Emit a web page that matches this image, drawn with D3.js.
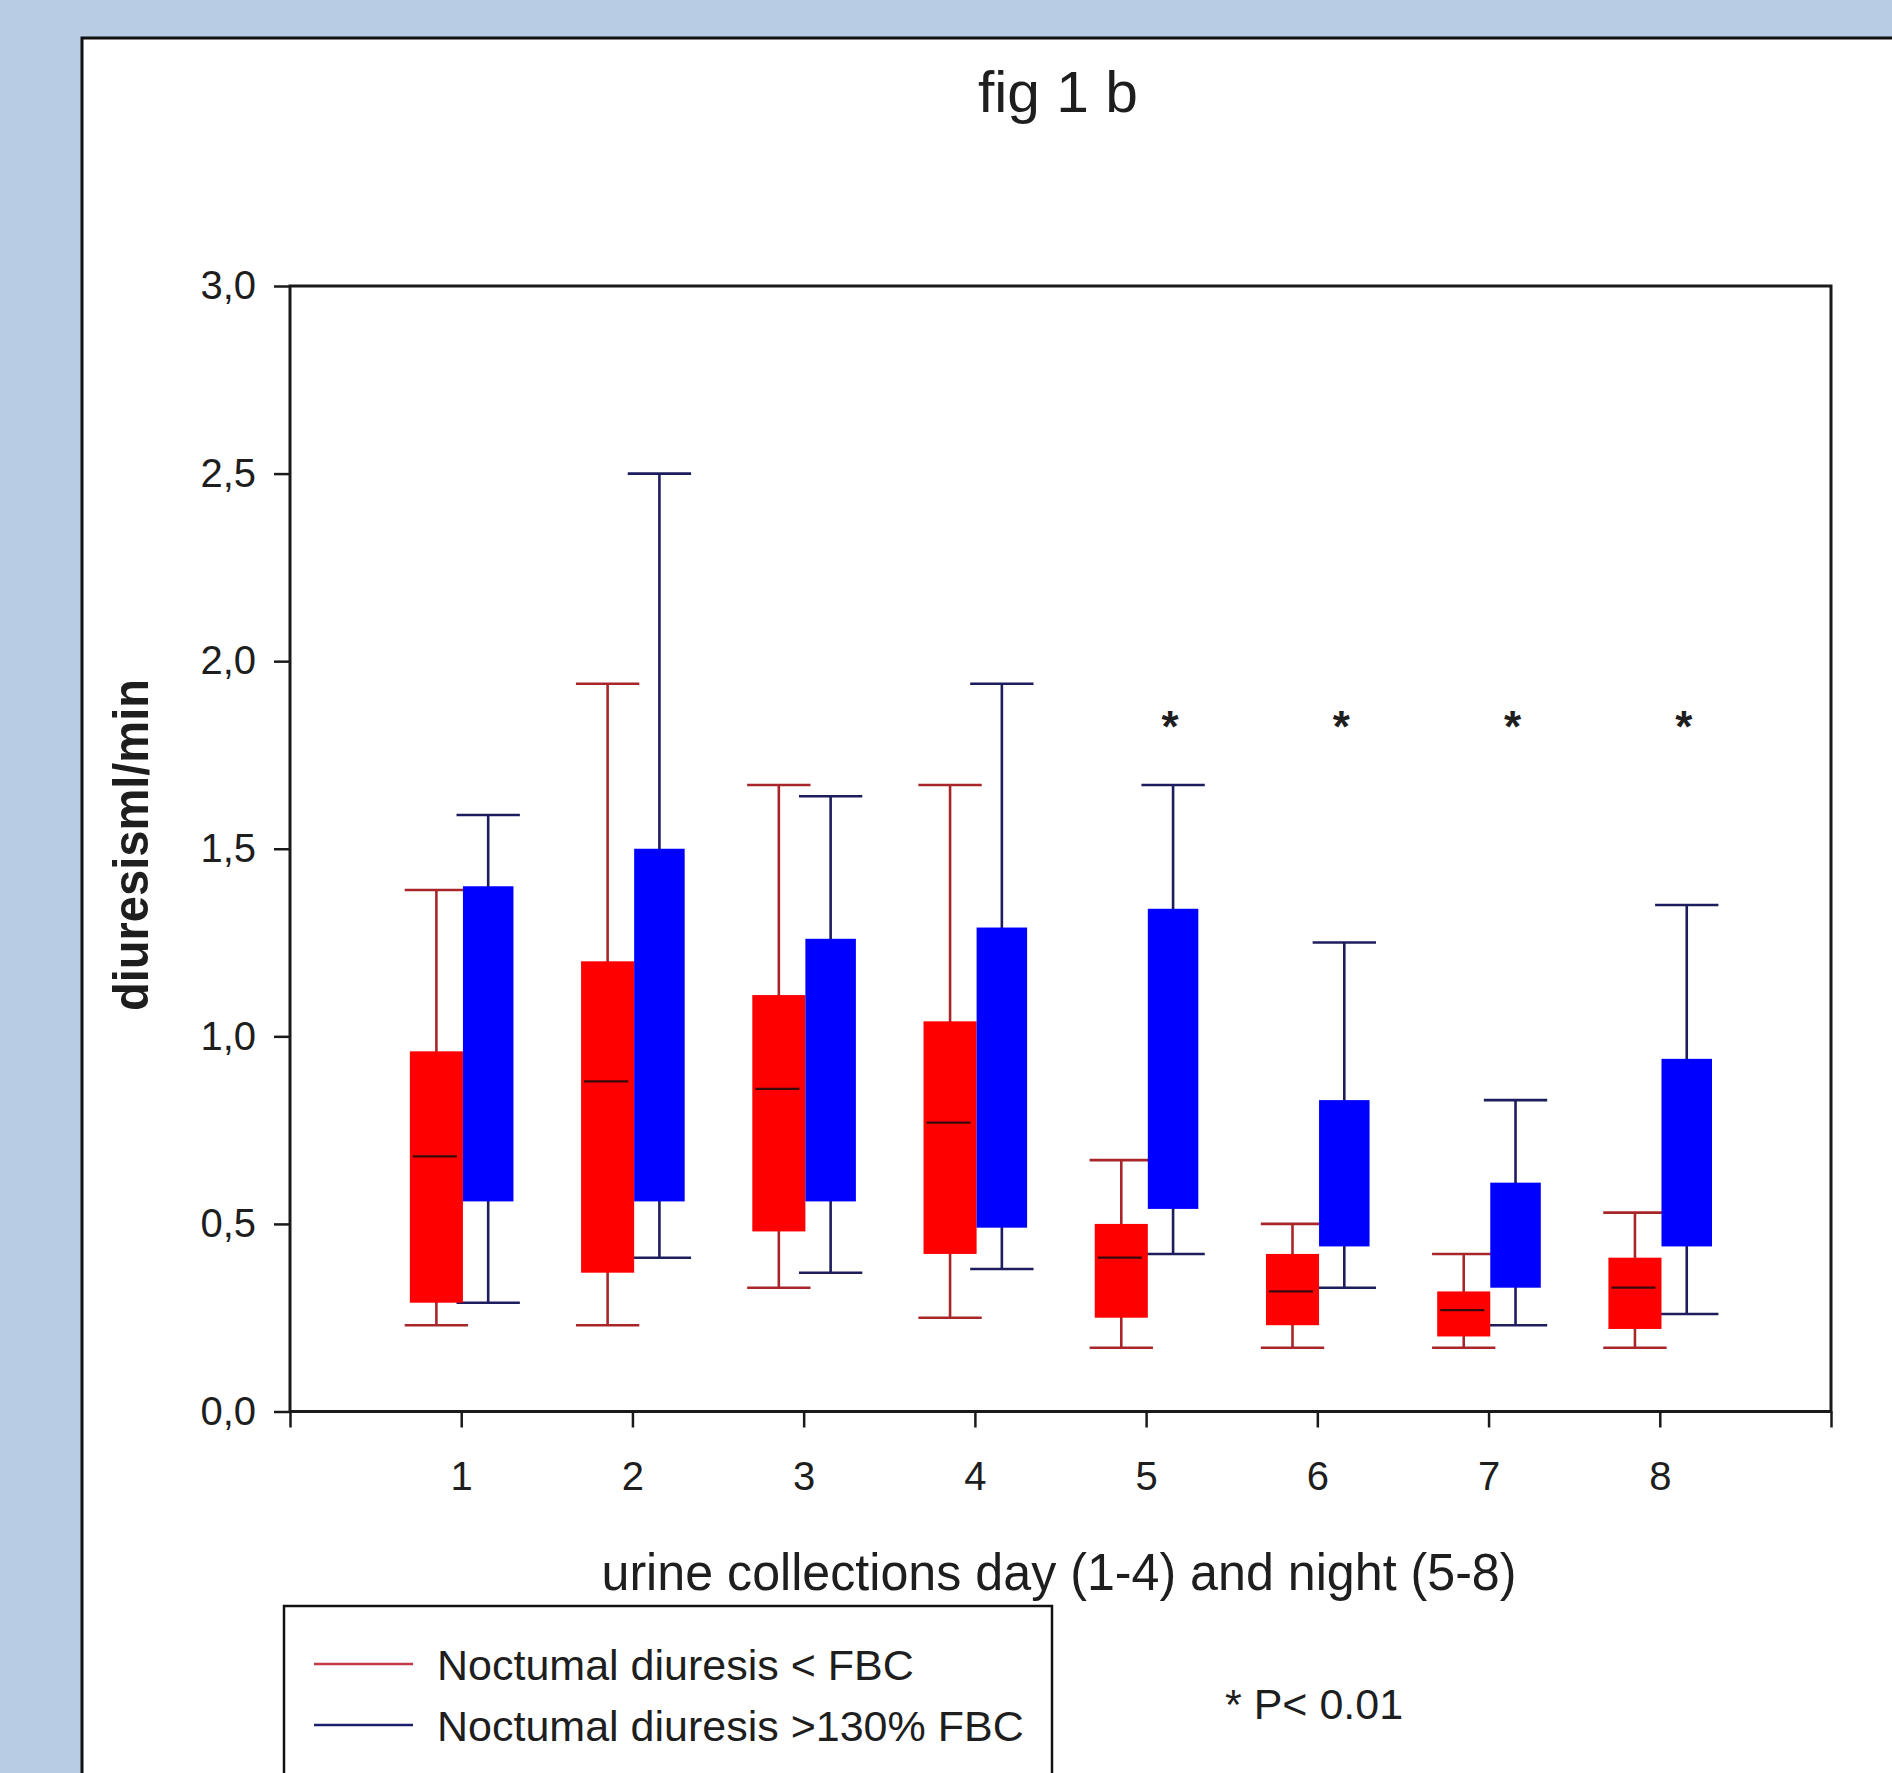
<!DOCTYPE html>
<html>
<head>
<meta charset="utf-8">
<script src="https://cdn.jsdelivr.net/npm/d3@7"></script>
<style>
  html, body { margin: 0; padding: 0; background: #b8cce4; }
  svg { display: block; }
  text { font-family: "Liberation Sans", Arial, sans-serif; fill: #1e1e1e; }
</style>
</head>
<body>
<script>
// Urine collections: 1-4 day, 5-8 night
const collections = [1, 2, 3, 4, 5, 6, 7, 8];
const xTickValues = [0, 1, 2, 3, 4, 5, 6, 7, 8, 9];
const yTickValues = [0, 0.5, 1.0, 1.5, 2.0, 2.5, 3.0];

// Nocturnal diuresis < FBC (box-and-whisker summary, ml/min)
const redMin    = [0.23, 0.23, 0.33, 0.25, 0.17, 0.17, 0.17, 0.17];
const redQ1     = [0.29, 0.37, 0.48, 0.42, 0.25, 0.23, 0.20, 0.22];
const redMedian = [0.68, 0.88, 0.86, 0.77, 0.41, 0.32, 0.27, 0.33];
const redQ3     = [0.96, 1.20, 1.11, 1.04, 0.50, 0.42, 0.32, 0.41];
const redMax    = [1.39, 1.94, 1.67, 1.67, 0.67, 0.50, 0.42, 0.53];

// Nocturnal diuresis > 130% FBC
const blueMin = [0.29, 0.41, 0.37, 0.38, 0.42, 0.33, 0.23, 0.26];
const blueQ1  = [0.56, 0.56, 0.56, 0.49, 0.54, 0.44, 0.33, 0.44];
const blueQ3  = [1.40, 1.50, 1.26, 1.29, 1.34, 0.83, 0.61, 0.94];
const blueMax = [1.59, 2.50, 1.64, 1.94, 1.67, 1.25, 0.83, 1.35];

// Collections with a significant group difference
const significant = [5, 6, 7, 8];
const starLevel = 1.855;

const seriesNames = ["Noctumal diuresis < FBC", "Noctumal diuresis >130% FBC"];

const W = 1892, H = 1773;
const plot = { left: 290, right: 1831, top: 286, bottom: 1411.5 };

const svg = d3.select("body").append("svg").attr("width", W).attr("height", H);

// white figure panel
svg.append("rect")
  .attr("x", 82).attr("y", 38)
  .attr("width", W).attr("height", H)
  .attr("fill", "#ffffff")
  .attr("stroke", "#111").attr("stroke-width", 3);

svg.append("text")
  .attr("x", 1058).attr("y", 112)
  .attr("text-anchor", "middle")
  .attr("font-size", 57)
  .attr("textLength", 160).attr("lengthAdjust", "spacingAndGlyphs")
  .text("fig 1 b");

const x = d3.scaleLinear().domain([0, 9]).range([plot.left, plot.right]);
const y = d3.scaleLinear().domain([0, 3]).range([plot.bottom, plot.top]);

const boxW = 0.31;   // box width in collection units
const capW = 0.37;   // whisker cap width

const red = collections.map((c, i) => ({
  c, lo: redMin[i], q1: redQ1[i], med: redMedian[i], q3: redQ3[i], hi: redMax[i],
  x0: c - boxW + 0.01, x1: c + 0.01
}));
const blue = collections.map((c, i) => ({
  c, lo: blueMin[i], q1: blueQ1[i], q3: blueQ3[i], hi: blueMax[i],
  x0: c + 0.01, x1: c + boxW - 0.005
}));

const groups = [
  { data: red,  fill: "#ff0000", line: "#a8262a" },
  { data: blue, fill: "#0000ff", line: "#1d1d5e" }
];

// whiskers and caps first, boxes on top
const wl = svg.append("g");
groups.forEach(g => {
  g.data.forEach(d => {
    const cx = x((d.x0 + d.x1) / 2);
    const half = (x(capW) - x(0)) / 2;
    wl.append("line").attr("x1", cx).attr("x2", cx)
      .attr("y1", y(d.hi)).attr("y2", y(d.lo))
      .attr("stroke", g.line).attr("stroke-width", 2.6);
    [d.hi, d.lo].forEach(v => {
      wl.append("line").attr("x1", cx - half).attr("x2", cx + half)
        .attr("y1", y(v)).attr("y2", y(v))
        .attr("stroke", g.line).attr("stroke-width", 2.6);
    });
  });
});

const bl = svg.append("g");
groups.forEach(g => {
  bl.selectAll(null).data(g.data).enter().append("rect")
    .attr("x", d => x(d.x0))
    .attr("width", d => x(d.x1) - x(d.x0))
    .attr("y", d => y(d.q3))
    .attr("height", d => y(d.q1) - y(d.q3))
    .attr("fill", g.fill);
});

// medians
bl.selectAll(null).data(red).enter().append("line")
  .attr("x1", d => x(d.x0) + 3)
  .attr("x2", d => x(d.x1) - 6)
  .attr("y1", d => y(d.med)).attr("y2", d => y(d.med))
  .attr("stroke", "#3a0a0a").attr("stroke-width", 2.2);

// significance markers above the >130% FBC group
svg.selectAll(null).data(significant).enter().append("text")
  .attr("x", c => x(c + 0.14))
  .attr("y", y(starLevel) + 26)
  .attr("text-anchor", "middle")
  .attr("font-size", 44)
  .attr("font-weight", "bold")
  .attr("fill", "#333")
  .text("*");

// frame
svg.append("rect")
  .attr("x", plot.left).attr("y", plot.top)
  .attr("width", plot.right - plot.left).attr("height", plot.bottom - plot.top)
  .attr("fill", "none").attr("stroke", "#1a1a1a").attr("stroke-width", 3);

// axes
const yAxis = d3.axisLeft(y).tickValues(yTickValues).tickSize(16).tickPadding(18)
  .tickFormat(d => d3.format(".1f")(d).replace(".", ","));
const gy = svg.append("g").attr("transform", `translate(${plot.left},0)`).call(yAxis);
gy.select(".domain").remove();
gy.selectAll(".tick line").attr("stroke", "#1a1a1a").attr("stroke-width", 2.5);
gy.selectAll(".tick text").attr("font-size", 40).attr("font-family", "Liberation Sans, Arial, sans-serif").attr("fill", "#2a2a2a");

const xAxis = d3.axisBottom(x).tickValues(xTickValues).tickSize(16).tickPadding(34)
  .tickFormat(d => (d >= 1 && d <= 8) ? String(d) : "");
const gx = svg.append("g").attr("transform", `translate(0,${plot.bottom})`).call(xAxis);
gx.select(".domain").remove();
gx.selectAll(".tick line").attr("stroke", "#1a1a1a").attr("stroke-width", 2.5);
gx.selectAll(".tick text").attr("font-size", 40).attr("font-family", "Liberation Sans, Arial, sans-serif").attr("fill", "#2a2a2a");

// axis titles
svg.append("text")
  .attr("x", 1059).attr("y", 1590)
  .attr("text-anchor", "middle")
  .attr("font-size", 52)
  .attr("textLength", 915).attr("lengthAdjust", "spacingAndGlyphs")
  .text("urine collections day (1-4) and night (5-8)");

svg.append("text")
  .attr("transform", "translate(148,845) rotate(-90)")
  .attr("text-anchor", "middle")
  .attr("font-size", 50)
  .attr("font-weight", "bold")
  .attr("textLength", 332).attr("lengthAdjust", "spacingAndGlyphs")
  .text("diuresisml/min");

// legend
const lg = svg.append("g");
lg.append("rect")
  .attr("x", 284).attr("y", 1606)
  .attr("width", 768).attr("height", 220)
  .attr("fill", "#fff").attr("stroke", "#111").attr("stroke-width", 2.5);
const legendColors = ["#c23a4a", "#1d1d6e"];
seriesNames.forEach((name, i) => {
  const ly = 1664 + i * 61;
  lg.append("line").attr("x1", 314).attr("x2", 413)
    .attr("y1", ly).attr("y2", ly)
    .attr("stroke", legendColors[i]).attr("stroke-width", 2.5);
  lg.append("text").attr("x", 437).attr("y", ly + 16)
    .attr("font-size", 43).text(name);
});

svg.append("text")
  .attr("x", 1225).attr("y", 1719)
  .attr("font-size", 43)
  .text("* P< 0.01");
</script>
</body>
</html>
